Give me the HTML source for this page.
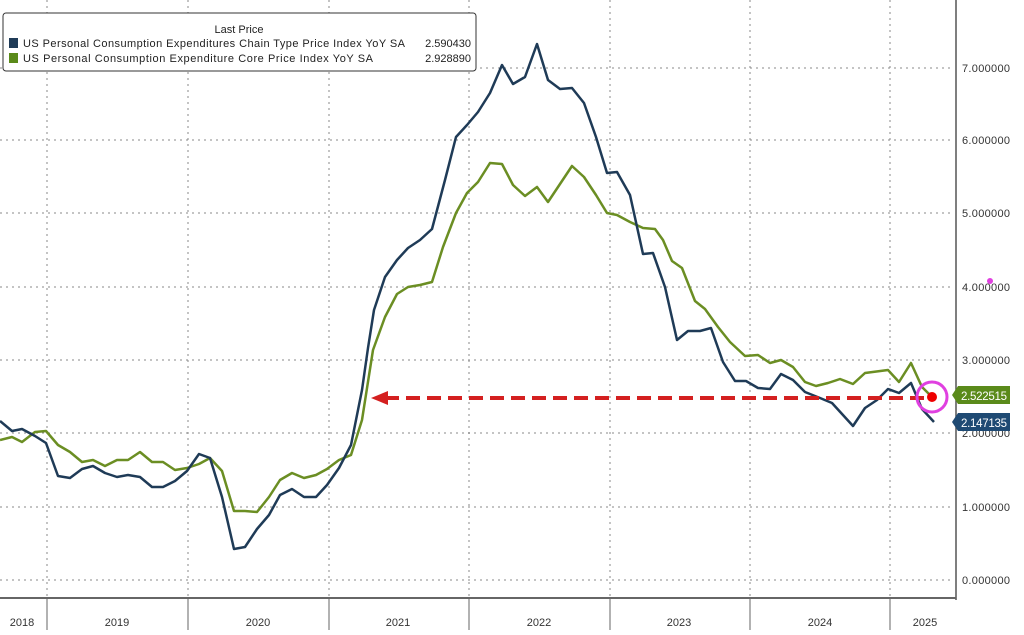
<!DOCTYPE html>
<html><head><meta charset="utf-8"><style>
body{margin:0;background:#fff;width:1024px;height:630px;overflow:hidden;font-family:"Liberation Sans","DejaVu Sans",sans-serif}
</style></head><body>
<svg width="1024" height="630" xmlns="http://www.w3.org/2000/svg" font-family="Liberation Sans, DejaVu Sans, sans-serif">
<rect width="1024" height="630" fill="#fff"/>
<g stroke="#888" stroke-width="1" stroke-dasharray="2,4">
<line x1="0" y1="68" x2="952" y2="68"/><line x1="0" y1="140" x2="952" y2="140"/>
<line x1="0" y1="213" x2="952" y2="213"/><line x1="0" y1="287" x2="952" y2="287"/>
<line x1="0" y1="360" x2="952" y2="360"/><line x1="0" y1="433" x2="952" y2="433"/>
<line x1="0" y1="507" x2="952" y2="507"/><line x1="0" y1="580" x2="952" y2="580"/>
<line x1="47" y1="0" x2="47" y2="598"/><line x1="188" y1="0" x2="188" y2="598"/>
<line x1="329" y1="0" x2="329" y2="598"/><line x1="469" y1="0" x2="469" y2="598"/>
<line x1="610" y1="0" x2="610" y2="598"/><line x1="750" y1="0" x2="750" y2="598"/>
<line x1="890" y1="0" x2="890" y2="598"/>
</g>
<line x1="956" y1="0" x2="956" y2="600" stroke="#555" stroke-width="1.5"/>
<line x1="0" y1="598" x2="956" y2="598" stroke="#666" stroke-width="2"/>
<g stroke="#666" stroke-width="1">
<line x1="47" y1="598" x2="47" y2="630"/><line x1="188" y1="598" x2="188" y2="630"/>
<line x1="329" y1="598" x2="329" y2="630"/><line x1="469" y1="598" x2="469" y2="630"/>
<line x1="610" y1="598" x2="610" y2="630"/><line x1="750" y1="598" x2="750" y2="630"/>
<line x1="890" y1="598" x2="890" y2="630"/>
</g>
<g fill="#333" font-size="11" text-anchor="middle">
<text x="22" y="626">2018</text><text x="117" y="626">2019</text><text x="258" y="626">2020</text>
<text x="398" y="626">2021</text><text x="539" y="626">2022</text><text x="679" y="626">2023</text>
<text x="820" y="626">2024</text><text x="925" y="626">2025</text>
</g>
<g fill="#333" font-size="11">
<text x="962" y="72" textLength="48">7.000000</text><text x="962" y="144" textLength="48">6.000000</text>
<text x="962" y="217" textLength="48">5.000000</text><text x="962" y="291" textLength="48">4.000000</text>
<text x="962" y="364" textLength="48">3.000000</text><text x="962" y="437" textLength="48">2.000000</text>
<text x="962" y="511" textLength="48">1.000000</text><text x="962" y="584" textLength="48">0.000000</text>
</g>
<polyline fill="none" stroke="#6b8e23" stroke-width="2.5" stroke-linejoin="round" points="0,440 12,437 22,442 35,432 46,431 58,445 70,452 82,462 93,460 105,466 117,460 128,460 140,452 152,462 163,462 175,470 187,468 199,464 210,458 222,471 234,511 245,511 257,512 269,497 280,480 292,473 304,478 316,475 327,469 339,460 351,455 362,420 373,350 385,317 397,294 408,287 420,285 432,282 443,247 456,213 467,193 478,182 490,163 502,164 513,185 525,196 537,187 548,202 560,184 572,166 584,177 596,195 607,213 617,215 630,222 643,228 655,229 663,240 672,261 682,268 695,301 705,309 718,327 730,342 745,356 758,355 770,363 781,360 793,367 805,382 816,386 828,383 840,379 853,384 865,373 888,370 899,382 911,363 922,387 932,397"/>
<polyline fill="none" stroke="#1f3b57" stroke-width="2.5" stroke-linejoin="round" points="0,421 12,431 22,429 35,436 46,443 58,476 70,478 82,469 93,466 105,473 117,477 128,475 140,477 152,487 163,487 175,481 187,471 199,454 210,458 222,497 234,549 245,547 257,529 269,515 280,495 292,489 304,497 316,497 327,485 339,468 351,445 362,390 368,348 374,310 385,277 397,260 408,248 420,240 432,229 445,180 456,137 467,125 478,112 490,93 502,65 513,84 525,77 537,44 548,80 560,89 572,88 584,103 596,137 607,173 617,172 630,195 643,254 653,253 665,287 677,340 688,331 700,331 711,328 723,362 735,381 746,381 758,388 770,389 781,374 793,380 805,392 820,398 832,403 853,426 865,408 877,400 888,389 899,393 911,383 922,409 934,422"/>
<line x1="385" y1="398" x2="932" y2="398" stroke="#d42020" stroke-width="4" stroke-dasharray="14,7"/>
<polygon points="371,398 388,391 388,405" fill="#d42020"/>
<circle cx="932" cy="397" r="5" fill="#e00"/>
<circle cx="932" cy="397" r="15" fill="none" stroke="#e040e0" stroke-width="3"/>
<circle cx="990" cy="281" r="3" fill="#e040e0"/>
<polygon points="952,395 958,386 1010,386 1010,404 958,404" fill="#5a8a1a"/>
<text x="961" y="400" fill="#fff" font-size="11.5" textLength="46">2.522515</text>
<polygon points="952,422 958,413 1010,413 1010,431 958,431" fill="#1f4a73"/>
<text x="961" y="427" fill="#fff" font-size="11.5" textLength="46">2.147135</text>
<rect x="3" y="13" width="473" height="58" rx="3" fill="#fff" stroke="#333" stroke-width="1"/>
<text x="239" y="33" font-size="11" fill="#222" text-anchor="middle">Last Price</text>
<rect x="9" y="38" width="9" height="10" fill="#1f3b57"/>
<rect x="9" y="53" width="9" height="10" fill="#5a8a1a"/>
<text x="23" y="47" font-size="11" fill="#222" textLength="382">US Personal Consumption Expenditures Chain Type Price Index YoY SA</text>
<text x="471" y="47" font-size="11" fill="#222" text-anchor="end">2.590430</text>
<text x="23" y="62" font-size="11" fill="#222" textLength="350">US Personal Consumption Expenditure Core Price Index YoY SA</text>
<text x="471" y="62" font-size="11" fill="#222" text-anchor="end">2.928890</text>
</svg>
</body></html>
